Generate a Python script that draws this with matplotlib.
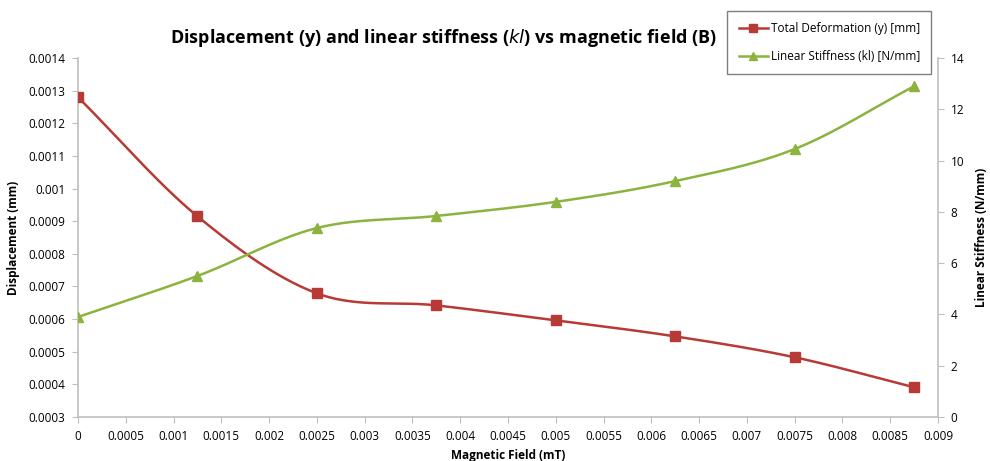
import numpy as np
import matplotlib.pyplot as plt

# dados
campo = [0, 0.00125, 0.0025, 0.00375, 0.005, 0.00625, 0.0075, 0.00875]
deformacao = [0.00128, 0.000915, 0.000679, 0.000642, 0.000596, 0.000547, 0.000483, 0.000391]
rigidez = [3.9, 5.5, 7.37, 7.84, 8.39, 9.2, 10.45, 12.9]

x_ticks = [0, 0.0005, 0.001, 0.0015, 0.002, 0.0025, 0.003, 0.0035, 0.004, 0.0045,
           0.005, 0.0055, 0.006, 0.0065, 0.007, 0.0075, 0.008, 0.0085, 0.009]
x_labels = ['0', '0.0005', '0.001', '0.0015', '0.002', '0.0025', '0.003', '0.0035', '0.004',
            '0.0045', '0.005', '0.0055', '0.006', '0.0065', '0.007', '0.0075', '0.008',
            '0.0085', '0.009']
y1_ticks = [0.0003, 0.0004, 0.0005, 0.0006, 0.0007, 0.0008, 0.0009, 0.001, 0.0011, 0.0012, 0.0013, 0.0014]
y1_labels = ['0.0003', '0.0004', '0.0005', '0.0006', '0.0007', '0.0008', '0.0009', '0.001',
             '0.0011', '0.0012', '0.0013', '0.0014']
y2_ticks = [0, 2, 4, 6, 8, 10, 12, 14]

plt.rcParams['font.family'] = ['Open Sans', 'DejaVu Sans']


def suavizar(xs, ys, n=30):
    # curva suave tipo excel (catmull-rom) so para desenhar a linha
    xs = np.asarray(xs, float)
    ys = np.asarray(ys, float)
    px = np.concatenate([[2 * xs[0] - xs[1]], xs, [2 * xs[-1] - xs[-2]]])
    py = np.concatenate([[2 * ys[0] - ys[1]], ys, [2 * ys[-1] - ys[-2]]])
    t = np.linspace(0, 1, n)
    ox, oy = [], []
    for i in range(1, len(px) - 2):
        for p, out in ((px, ox), (py, oy)):
            p0, p1, p2, p3 = p[i - 1], p[i], p[i + 1], p[i + 2]
            out.extend(0.5 * (2 * p1 + (-p0 + p2) * t + (2 * p0 - 5 * p1 + 4 * p2 - p3) * t ** 2
                              + (-p0 + 3 * p1 - 3 * p2 + p3) * t ** 3))
    return np.array(ox), np.array(oy)


vermelho = '#b83a37'
verde = '#8cb33e'
cinza = '#bfbfbf'

fig = plt.figure(figsize=(9.9, 4.61), dpi=100)
ax = fig.add_axes([78 / 990, 1 - 417 / 461, 860 / 990, 359 / 461])
ax2 = ax.twinx()

sx, sy = suavizar(campo, deformacao)
ax.plot(sx, sy, color=vermelho, lw=1.8, zorder=3)
ax.plot(campo, deformacao, 's', color=vermelho, ms=6.5, zorder=4)

gx, gy = suavizar(campo, rigidez)
ax2.plot(gx, gy, color=verde, lw=1.8, zorder=3)
ax2.plot(campo, rigidez, '^', color=verde, ms=7, zorder=4)

ax.set_xlim(0, 0.009)
ax.set_ylim(0.0003, 0.0014)
ax2.set_ylim(0, 14)

ax.set_xticks(x_ticks)
ax.set_xticklabels(x_labels, fontsize=8.5)
ax.set_yticks(y1_ticks)
ax.set_yticklabels(y1_labels, fontsize=8.5)
ax2.set_yticks(y2_ticks)
ax2.set_yticklabels([str(v) for v in y2_ticks], fontsize=8.5)

for a in (ax, ax2):
    for s in a.spines.values():
        s.set_visible(False)
    a.tick_params(length=4, color=cinza, pad=5)
ax.spines['left'].set_visible(True)
ax.spines['bottom'].set_visible(True)
ax2.spines['right'].set_visible(True)
for s in (ax.spines['left'], ax.spines['bottom'], ax2.spines['right']):
    s.set_color(cinza)
    s.set_linewidth(1.2)

ax.set_xlabel('Magnetic Field (mT)', fontsize=8.5, fontweight='bold', labelpad=5)
ax.set_ylabel('Displacement (mm)', fontsize=8.5, fontweight='bold', labelpad=6)
ax2.set_ylabel('Linear Stiffness (N/mm)', fontsize=8.5, fontweight='bold', labelpad=8)

fig.text(444 / 990, 1 - 38 / 461, 'Displacement (y) and linear stiffness ($kl$) vs magnetic field (B)',
         ha='center', va='center', fontsize=13, fontweight='bold')

h1 = plt.Line2D([], [], color=vermelho, marker='s', lw=1.8, ms=6)
h2 = plt.Line2D([], [], color=verde, marker='^', lw=1.8, ms=6)
leg = fig.legend([h1, h2], ['Total Deformation (y) [mm]', 'Linear Stiffness (kl) [N/mm]'],
                 loc='upper right', bbox_to_anchor=(931 / 990, 1 - 11 / 461), fontsize=8.5,
                 fancybox=False, framealpha=1, edgecolor='#7f7f7f', handlelength=2.5,
                 handletextpad=0.2, labelspacing=1.25, borderpad=0.95, borderaxespad=0)

fig.savefig('out.png', dpi=100)
